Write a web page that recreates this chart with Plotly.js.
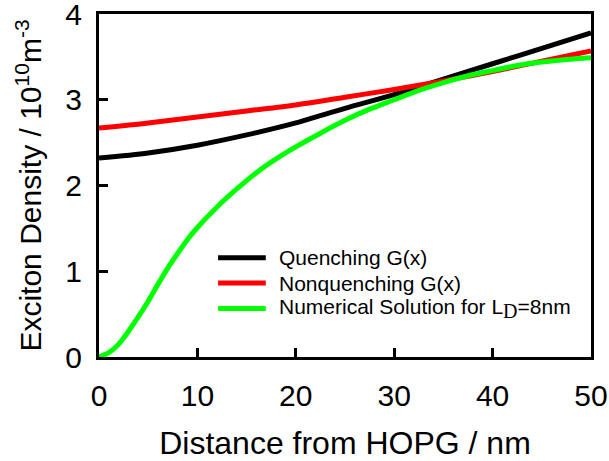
<!DOCTYPE html>
<html>
<head>
<meta charset="utf-8">
<script src="https://cdn.plot.ly/plotly-3.0.1.min.js"></script>
<style>html,body{margin:0;padding:0;background:#fff;}#chart{width:609px;height:461px;}</style>
</head>
<body>
<div id="chart"></div>
<script>
// Data
const xQuench = [0, 5, 10, 15, 20, 25, 30, 35, 40, 45, 50];
const yQuench = [2.32, 2.38, 2.47, 2.59, 2.73, 2.90, 3.06, 3.24, 3.42, 3.60, 3.78];

const xNonQuench = [0, 5, 10, 15, 20, 25, 30, 35, 40, 45, 50];
const yNonQuench = [2.67, 2.73, 2.80, 2.87, 2.94, 3.03, 3.12, 3.22, 3.33, 3.45, 3.57];

const xNumerical = [0, 1, 2, 3, 4, 5, 6, 7, 8, 9, 10, 12, 14, 16, 18, 20, 22.5, 25, 27.5, 30, 32.5, 35, 37.5, 40, 42.5, 45, 47.5, 50];
const yNumerical = [0, 0.05, 0.15, 0.30, 0.47, 0.65, 0.85, 1.04, 1.21, 1.37, 1.51, 1.75, 1.96, 2.15, 2.31, 2.45, 2.61, 2.76, 2.89, 3.00, 3.11, 3.20, 3.28, 3.34, 3.40, 3.44, 3.47, 3.49];

const seriesNames = ["Quenching G(x)", "Nonquenching G(x)", "Numerical Solution for L<sub><span style=\"font-family:Liberation Serif;font-size:20px\">D</span></sub>=8nm"];
const seriesColors = ['#000000', '#ff0000', '#00ff00'];
const xTicks = [0, 10, 20, 30, 40, 50];
const yTicks = [0, 1, 2, 3, 4];

const xs = [xQuench, xNonQuench, xNumerical];
const ys = [yQuench, yNonQuench, yNumerical];
const traces = xs.map((x, i) => ({
  x: x, y: ys[i], name: seriesNames[i], mode: 'lines', showlegend: false,
  line: {color: seriesColors[i], width: 5, shape: 'spline', smoothing: 0.8}
}));

const font = "Liberation Sans, Arial, sans-serif";

// Legend drawn inside the plot (paper coordinates)
const legX0 = 0.242, legX1 = 0.339, legTextX = 0.362;
const legRowsY = [0.2897, 0.2154, 0.1412];
const shapes = seriesColors.map((c, i) => ({
  type: 'line', xref: 'paper', yref: 'paper', x0: legX0, x1: legX1, y0: legRowsY[i], y1: legRowsY[i],
  line: {color: c, width: 5}
}));
const annotations = seriesNames.map((n, i) => ({
  xref: 'paper', yref: 'paper', x: legTextX, y: legRowsY[i], xanchor: 'left', yanchor: 'middle',
  text: n, showarrow: false, font: {family: font, size: 21, color: '#000'}
}));

const layout = {
  width: 609, height: 461,
  margin: {l: 99, r: 18, t: 14, b: 103.5, pad: 0},
  paper_bgcolor: '#ffffff', plot_bgcolor: '#ffffff',
  font: {family: font, color: '#000000'},
  showlegend: false,
  shapes: shapes,
  annotations: annotations,
  xaxis: {
    range: [0, 50], tickvals: xTicks, ticktext: xTicks.map(String),
    ticks: 'inside', ticklen: 9, tickwidth: 3, tickcolor: '#000',
    showline: true, linewidth: 3, linecolor: '#000', mirror: true,
    showgrid: false, zeroline: false, ticklabeloverflow: 'allow', ticklabelstandoff: 10,
    tickfont: {family: font, size: 30, color: '#000'},
    title: {text: 'Distance from HOPG / nm', font: {family: font, size: 32, color: '#000'}, standoff: 26}
  },
  yaxis: {
    range: [0, 4], tickvals: yTicks, ticktext: yTicks.map(String),
    ticks: 'inside', ticklen: 9, tickwidth: 3, tickcolor: '#000',
    showline: true, linewidth: 3, linecolor: '#000', mirror: true,
    showgrid: false, zeroline: false, ticklabeloverflow: 'allow', ticklabelstandoff: 8,
    tickfont: {family: font, size: 30, color: '#000'},
    title: {text: 'Exciton Density / 10<sup>10</sup>m<sup>-3</sup>', font: {family: font, size: 30, color: '#000'}, standoff: 15}
  }
};

Plotly.newPlot('chart', traces, layout, {displayModeBar: false, staticPlot: true});
</script>
</body>
</html>
